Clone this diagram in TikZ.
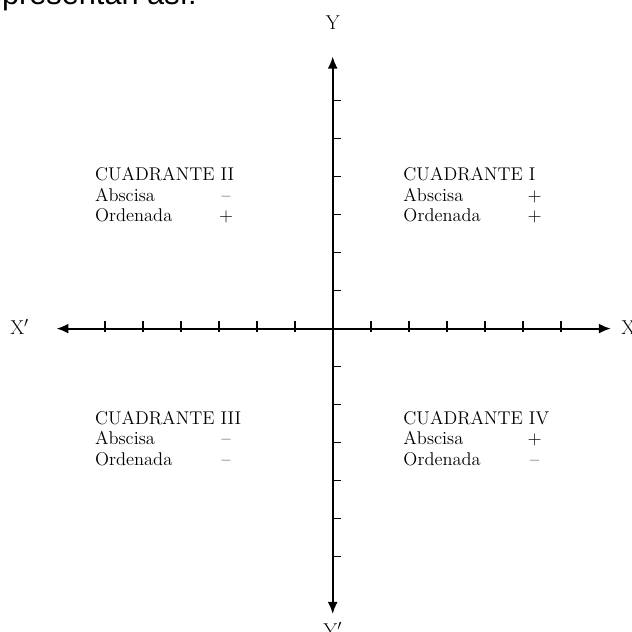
\documentclass[tikz,border=0pt]{standalone}
\usepackage{fontspec}
\newfontfamily\introfont{Liberation Sans}
\usetikzlibrary{arrows.meta}
\tikzset{
  axisline/.style = {<->, >={Latex[length=9pt,width=7.5pt]}, line width=1.5pt},
  tickmark/.style = {line width=1.3pt},
  quadtxt/.style  = {anchor=base west, inner sep=0pt,
                     font=\addfontfeature{FakeBold=0.7}\fontsize{13.8}{15}\selectfont},
  axislbl/.style  = {inner sep=0pt,
                     font=\addfontfeature{FakeBold=0.7}\fontsize{15}{17}\selectfont},
  introlbl/.style = {anchor=base east, inner sep=0pt,
                     font=\introfont\fontsize{23}{26}\selectfont}
}
\newcommand{\signcol}[2]{\makebox[3.45cm][l]{#1}\makebox[0pt][c]{#2}}

\begin{document}
\begin{tikzpicture}
  \useasboundingbox (-8.755,-7.958) rectangle (7.876,8.647);
  % Leading sentence (cut by the page top)
  \node[introlbl] (intro) at (-3.57,8.54) {representan así:};
  % Axes
  \coordinate (origin) at (0,0);
  \coordinate (xneg) at (-7.27,0);
  \coordinate (xpos) at ( 7.32,0);
  \coordinate (ypos) at (0, 7.16);
  \coordinate (yneg) at (0,-7.51);
  \draw[axisline] (xneg) -- (xpos);
  \draw[axisline] (yneg) -- (ypos);
  % Tick marks
  \foreach \i in {-6,...,-1,1,2,...,6} {
    \draw[tickmark] (\i,-0.1) -- (\i,0.21);
    \draw[tickmark] (0,\i) -- (0.21,\i);
  }
  % Axis labels
  \node[axislbl, anchor=base]      (ylbl)  at (0,7.86)       {Y};
  \node[axislbl, anchor=base]      (yplbl) at (0,-8.12)      {Y$'$};
  \node[axislbl, anchor=base west] (xplbl) at (-8.49,-0.16)  {X$'$};
  \node[axislbl, anchor=base west] (xlbl)  at (7.59,-0.16)   {X};
  % Quadrants
  \foreach \qn/\qx/\qy/\sa/\so in {I/1.855/3.895/+/+, II/-6.26/3.895/--/+,
                                    III/-6.26/-2.516/--/--, IV/1.855/-2.516/+/--} {
    \node[quadtxt] (q\qn-tit) at (\qx,\qy)       {CUADRANTE \qn};
    \node[quadtxt] (q\qn-abs) at (\qx,\qy-0.542) {\signcol{Abscisa}{\sa}};
    \node[quadtxt] (q\qn-ord) at (\qx,\qy-1.084) {\signcol{Ordenada}{\so}};
  }
\end{tikzpicture}
\end{document}
